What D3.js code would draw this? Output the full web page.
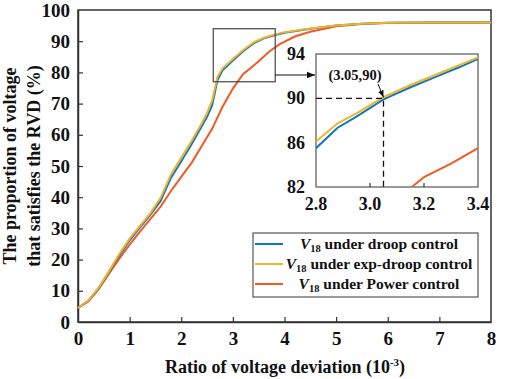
<!DOCTYPE html>
<html>
<head>
<meta charset="utf-8">
<script src="https://cdn.jsdelivr.net/npm/d3@7"></script>
<style>
  body { margin: 0; background: #fff; }
  text { font-family: "Liberation Serif", "Times New Roman", serif; font-weight: bold; }
</style>
</head>
<body>
<div id="chart"></div>
<script>
var width = 505, height = 379;

// main curves, x = ratio of voltage deviation (1e-3), y = proportion (%)
var xMain = [0, 0.2, 0.4, 0.6, 0.8, 1.0, 1.2, 1.4, 1.6, 1.8, 2.0, 2.2, 2.4, 2.5, 2.6, 2.7, 2.8, 3.0, 3.2, 3.4, 3.6, 3.8, 4.0, 4.5, 5.0, 5.5, 6.0, 7.0, 8.0];
var droop = [4.5, 6.8, 10.8, 16, 21.3, 26.2, 30.3, 34.3, 38.8, 46.2, 51.5, 57, 62.8, 65.8, 69.5, 77.5, 80.7, 83.8, 86.8, 89.3, 90.9, 91.9, 92.7, 94, 95, 95.6, 95.9, 96, 96];
var expDroop = [4.5, 6.9, 11, 16.3, 21.8, 26.7, 30.8, 34.8, 39.8, 47.3, 52.6, 58, 63.8, 67, 71, 78.5, 81.3, 84.3, 87.2, 89.6, 91.1, 92.1, 92.9, 94.1, 95, 95.6, 95.9, 96, 96];
var xPower = [0, 0.2, 0.4, 0.6, 0.8, 1.0, 1.2, 1.4, 1.6, 1.8, 2.0, 2.2, 2.4, 2.6, 2.8, 3.0, 3.2, 3.3, 3.5, 3.7, 3.9, 4.2, 4.5, 5.0, 5.5, 6.0, 7.0, 8.0];
var power = [4.5, 6.6, 10.5, 15.5, 20.3, 24.8, 29, 33, 37, 42, 46.5, 51, 56.5, 62, 69, 74.8, 79.5, 80.8, 83.6, 86.6, 89, 91.5, 93, 94.8, 95.5, 95.8, 96, 96];

// inset (zoomed) curves
var xInset = [2.8, 2.88, 2.95, 3.05, 3.15, 3.25, 3.33, 3.4];
var droopInset = [85.5, 87.35, 88.35, 89.9, 91.0, 92.0, 92.8, 93.55];
var expInset = [86.1, 87.75, 88.65, 90.1, 91.2, 92.2, 93.0, 93.7];
var xPowerInset = [3.14, 3.2, 3.3, 3.4];
var powerInset = [81.7, 82.9, 84.1, 85.5];

var xTicks = [0, 1, 2, 3, 4, 5, 6, 7, 8];
var yTicks = [0, 10, 20, 30, 40, 50, 60, 70, 80, 90, 100];
var xTicksInset = [2.8, 3.0, 3.2, 3.4];
var yTicksInset = [82, 86, 90, 94];

var names = ["under droop control", "under exp-droop control", "under Power control"];
var colors = ["#0a78c2", "#f2b22a", "#f05a24"];

var svg = d3.select("#chart").append("svg")
    .attr("width", width)
    .attr("height", height);

var m = {left: 78, right: 491, top: 10, bottom: 322};
var x = d3.scaleLinear().domain([0, 8]).range([m.left, m.right]);
var y = d3.scaleLinear().domain([0, 100]).range([m.bottom, m.top]);

function toPts(xs, ys) { return xs.map(function(v, i) { return [v, ys[i]]; }); }

// frame
svg.append("rect")
    .attr("x", m.left).attr("y", m.top)
    .attr("width", m.right - m.left).attr("height", m.bottom - m.top)
    .attr("fill", "none").attr("stroke", "#333").attr("stroke-width", 1.5);

var xAxis = svg.append("g").attr("transform", "translate(0," + m.bottom + ")")
    .call(d3.axisBottom(x).tickValues(xTicks).tickSizeInner(-5).tickSizeOuter(0).tickPadding(10));
var yAxis = svg.append("g").attr("transform", "translate(" + m.left + ",0)")
    .call(d3.axisLeft(y).tickValues(yTicks).tickSizeInner(-5).tickSizeOuter(0).tickPadding(8));
[xAxis, yAxis].forEach(function(a) {
    a.select(".domain").attr("stroke", "#333").attr("stroke-width", 1.5);
    a.selectAll(".tick line").attr("stroke", "#333").attr("stroke-width", 1.2);
    a.selectAll(".tick text").attr("font-size", 19).attr("fill", "#111");
});
xAxis.selectAll(".tick").filter(function(d) { return d === 0 || d === 8; }).select("line").remove();
yAxis.selectAll(".tick").filter(function(d) { return d === 0 || d === 100; }).select("line").remove();

// curves
var line = d3.line().x(function(d) { return x(d[0]); }).y(function(d) { return y(d[1]); });
var series = [toPts(xMain, droop), toPts(xMain, expDroop), toPts(xPower, power)];
[2, 0, 1].forEach(function(i) {
    svg.append("path").attr("d", line(series[i]))
        .attr("fill", "none").attr("stroke", colors[i]).attr("stroke-width", 2);
});

// zoom rectangle on main plot
svg.append("rect")
    .attr("x", x(2.62)).attr("y", y(94))
    .attr("width", x(3.82) - x(2.62)).attr("height", y(77) - y(94))
    .attr("fill", "none").attr("stroke", "#444").attr("stroke-width", 1.2);

// inset
var ins = {left: 316, right: 478, top: 54, bottom: 187};
var xi = d3.scaleLinear().domain([2.8, 3.4]).range([ins.left, ins.right]);
var yi = d3.scaleLinear().domain([82, 94]).range([ins.bottom, ins.top]);

svg.append("defs").append("marker")
    .attr("id", "arr").attr("viewBox", "0 0 10 10").attr("refX", 10).attr("refY", 5)
    .attr("markerWidth", 7).attr("markerHeight", 7).attr("orient", "auto")
    .append("path").attr("d", "M0,1 L10,5 L0,9 z").attr("fill", "#111");

svg.append("line")
    .attr("x1", x(3.82)).attr("y1", 75).attr("x2", ins.left - 1).attr("y2", 75)
    .attr("stroke", "#111").attr("stroke-width", 1.2).attr("marker-end", "url(#arr)");

svg.append("rect")
    .attr("x", ins.left).attr("y", ins.top)
    .attr("width", ins.right - ins.left).attr("height", ins.bottom - ins.top)
    .attr("fill", "#fff").attr("stroke", "#555").attr("stroke-width", 1.2);

svg.append("clipPath").attr("id", "insClip").append("rect")
    .attr("x", ins.left).attr("y", ins.top)
    .attr("width", ins.right - ins.left).attr("height", ins.bottom - ins.top);

var lineI = d3.line().x(function(d) { return xi(d[0]); }).y(function(d) { return yi(d[1]); });
var insetSeries = [toPts(xInset, droopInset), toPts(xInset, expInset), toPts(xPowerInset, powerInset)];
var gi = svg.append("g").attr("clip-path", "url(#insClip)");
[2, 0, 1].forEach(function(i) {
    gi.append("path").attr("d", lineI(insetSeries[i]))
        .attr("fill", "none").attr("stroke", colors[i]).attr("stroke-width", 2);
});

// inset ticks
xTicksInset.forEach(function(t) {
    if (t > 2.8 && t < 3.4) {
        svg.append("line").attr("x1", xi(t)).attr("x2", xi(t))
            .attr("y1", ins.bottom).attr("y2", ins.bottom - 4)
            .attr("stroke", "#333").attr("stroke-width", 1.2);
    }
    svg.append("text").attr("x", xi(t)).attr("y", 210)
        .attr("text-anchor", "middle").attr("font-size", 18).attr("fill", "#111")
        .text(d3.format(".1f")(t));
});
yTicksInset.forEach(function(t) {
    svg.append("text").attr("x", 305).attr("y", yi(t) + 6)
        .attr("text-anchor", "end").attr("font-size", 18).attr("fill", "#111")
        .text(t);
});

// dashed guides to (3.05, 90)
svg.append("path")
    .attr("d", "M" + xi(2.8) + "," + yi(90) + "H" + xi(3.05) + "V" + yi(82))
    .attr("fill", "none").attr("stroke", "#111").attr("stroke-width", 1.3)
    .attr("stroke-dasharray", "6,4");

svg.append("text").attr("x", 355).attr("y", 80)
    .attr("text-anchor", "middle").attr("font-size", 14.5).attr("fill", "#111")
    .text("(3.05,90)");
svg.append("line")
    .attr("x1", 378).attr("y1", 84).attr("x2", xi(3.05)).attr("y2", yi(90) - 1)
    .attr("stroke", "#111").attr("stroke-width", 1).attr("marker-end", "url(#arr)");

// legend
var lg = svg.append("g");
lg.append("rect").attr("x", 253).attr("y", 233).attr("width", 225).attr("height", 64)
    .attr("fill", "#fff").attr("stroke", "#555").attr("stroke-width", 1.2);
names.forEach(function(n, i) {
    var yy = 244 + i * 20;
    lg.append("line").attr("x1", 255).attr("x2", 283).attr("y1", yy).attr("y2", yy)
        .attr("stroke", colors[i]).attr("stroke-width", 2);
    var t = lg.append("text").attr("x", 379).attr("y", yy + 5)
        .attr("text-anchor", "middle").attr("font-size", 15.5).attr("fill", "#111");
    t.append("tspan").attr("font-style", "italic").text("V");
    t.append("tspan").attr("font-size", 10.5).attr("dy", 3).text("18");
    t.append("tspan").attr("dy", -3).text(" " + n);
});

// axis titles
var xt = svg.append("text").attr("x", 285).attr("y", 373)
    .attr("text-anchor", "middle").attr("font-size", 18).attr("fill", "#111");
xt.append("tspan").text("Ratio of voltage deviation (10");
xt.append("tspan").attr("font-size", 11).attr("dy", -7).text("-3");
xt.append("tspan").attr("dy", 7).text(")");

var yt = svg.append("text").attr("transform", "translate(16,166) rotate(-90)")
    .attr("text-anchor", "middle").attr("font-size", 18).attr("fill", "#111");
yt.append("tspan").attr("x", 0).attr("y", 0).text("The proportion of voltage");
yt.append("tspan").attr("x", 0).attr("y", 24).text("that satisfies the RVD (%)");
</script>
</body>
</html>
